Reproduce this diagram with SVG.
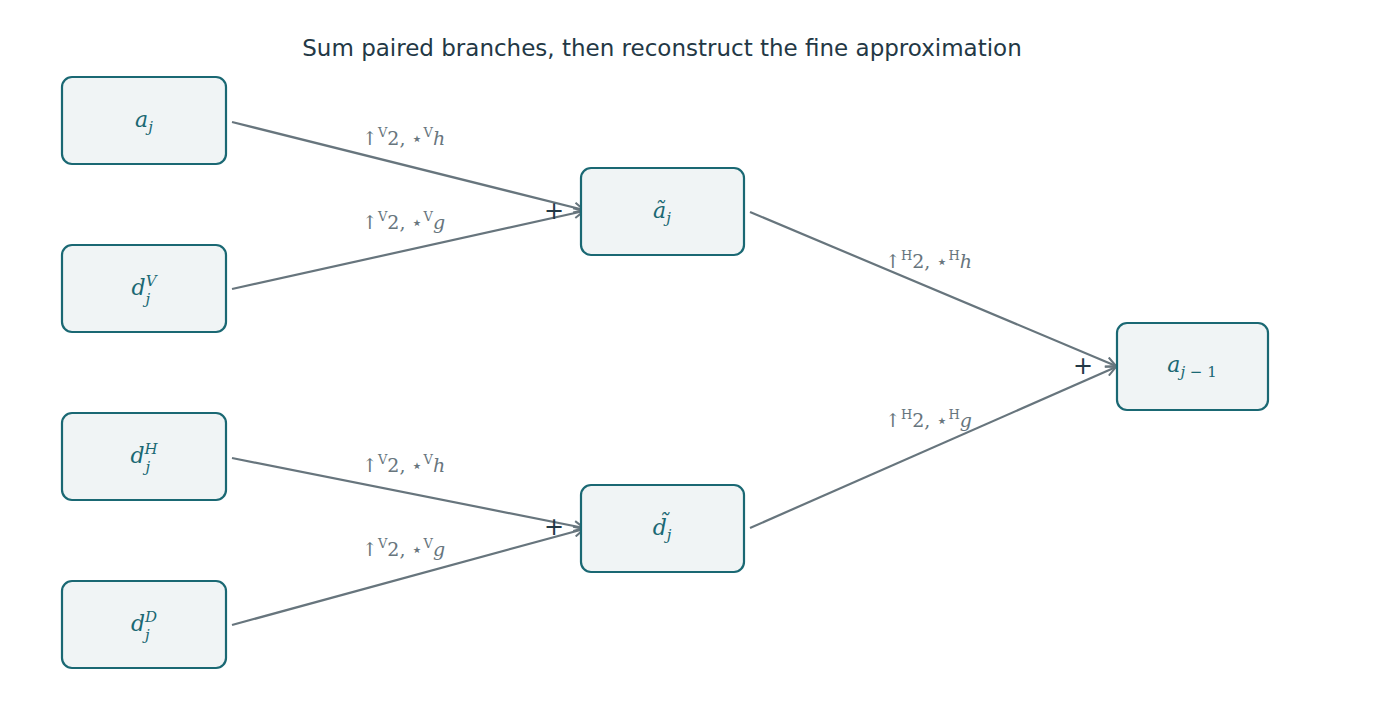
<svg xmlns="http://www.w3.org/2000/svg" width="1373" height="728" viewBox="0 0 1373 728">
<style>
.n rect{fill:#f0f4f5;stroke:#1a6873;stroke-width:2.2}
.n text{font-family:"DejaVu Serif","Liberation Serif",serif;font-style:italic;font-size:22px;fill:#1a6873;text-anchor:middle}
.e path{fill:none;stroke:#67757d;stroke-width:2.2}
.l{font-family:"DejaVu Serif","Liberation Serif",serif;font-size:19px;fill:#67757d}
.l tspan.s{font-size:13px}
.p{font-family:"DejaVu Sans",sans-serif;font-size:24px;fill:#233845;text-anchor:middle}
</style>
<defs><marker id="a" viewBox="0 0 12 12" refX="11" refY="6" markerWidth="12" markerHeight="12" markerUnits="userSpaceOnUse" orient="auto"><path d="M1 1L11 6L1 11" fill="none" stroke="#67757d" stroke-width="2"/></marker></defs>
<rect width="1373" height="728" fill="#fff"/>
<text x="662" y="56" font-family="DejaVu Sans,sans-serif" font-size="23" fill="#233845" text-anchor="middle">Sum paired branches, then reconstruct the fine approximation</text>
<g class="e" id="edges">
<path d="M232 122L584 210" marker-end="url(#a)"/>
<path d="M232 289L584 211" marker-end="url(#a)"/>
<path d="M232 458L584 528" marker-end="url(#a)"/>
<path d="M232 625L584 529" marker-end="url(#a)"/>
<path d="M750 212L1116 366" marker-end="url(#a)"/>
<path d="M750 528L1116 367" marker-end="url(#a)"/>
</g>
<g id="labels">
<text class="l" x="362" y="145">↑<tspan class="s" dy="-8">V</tspan><tspan dy="8">2,  ⋆</tspan><tspan class="s" dy="-8">V</tspan><tspan dy="8" font-style="italic">h</tspan></text>
<text class="l" x="362" y="229">↑<tspan class="s" dy="-8">V</tspan><tspan dy="8">2,  ⋆</tspan><tspan class="s" dy="-8">V</tspan><tspan dy="8" font-style="italic">g</tspan></text>
<text class="l" x="362" y="472">↑<tspan class="s" dy="-8">V</tspan><tspan dy="8">2,  ⋆</tspan><tspan class="s" dy="-8">V</tspan><tspan dy="8" font-style="italic">h</tspan></text>
<text class="l" x="362" y="556">↑<tspan class="s" dy="-8">V</tspan><tspan dy="8">2,  ⋆</tspan><tspan class="s" dy="-8">V</tspan><tspan dy="8" font-style="italic">g</tspan></text>
<text class="l" x="885" y="268">↑<tspan class="s" dy="-8">H</tspan><tspan dy="8">2,  ⋆</tspan><tspan class="s" dy="-8">H</tspan><tspan dy="8" font-style="italic">h</tspan></text>
<text class="l" x="885" y="427">↑<tspan class="s" dy="-8">H</tspan><tspan dy="8">2,  ⋆</tspan><tspan class="s" dy="-8">H</tspan><tspan dy="8" font-style="italic">g</tspan></text>
<text class="p" x="554" y="219">+</text>
<text class="p" x="554" y="535">+</text>
<text class="p" x="1083" y="374">+</text>
</g>
<g class="n" id="aj"><rect x="62" y="77" width="164" height="87" rx="10"/><text x="144" y="127">a<tspan font-size="15" dy="5">j</tspan></text></g>
<g class="n" id="djV"><rect x="62" y="245" width="164" height="87" rx="10"/><text x="144" y="295">d<tspan font-size="15" dy="-9">V</tspan><tspan font-size="15" dx="-11" dy="18">j</tspan></text></g>
<g class="n" id="djH"><rect x="62" y="413" width="164" height="87" rx="10"/><text x="144" y="463">d<tspan font-size="15" dy="-9">H</tspan><tspan font-size="15" dx="-12" dy="18">j</tspan></text></g>
<g class="n" id="djD"><rect x="62" y="581" width="164" height="87" rx="10"/><text x="144" y="631">d<tspan font-size="15" dy="-9">D</tspan><tspan font-size="15" dx="-12" dy="18">j</tspan></text></g>
<g class="n" id="atj"><rect x="581" y="168" width="163" height="87" rx="10"/><text x="662" y="218">ã<tspan font-size="15" dy="5">j</tspan></text></g>
<g class="n" id="dtj"><rect x="581" y="485" width="163" height="87" rx="10"/><text x="662" y="535">d̃<tspan font-size="15" dy="5">j</tspan></text></g>
<g class="n" id="aj1"><rect x="1117" y="323" width="151" height="87" rx="10"/><text x="1192" y="372">a<tspan font-size="15" dy="5" font-style="normal"><tspan font-style="italic">j</tspan> − 1</tspan></text></g>
</svg>
